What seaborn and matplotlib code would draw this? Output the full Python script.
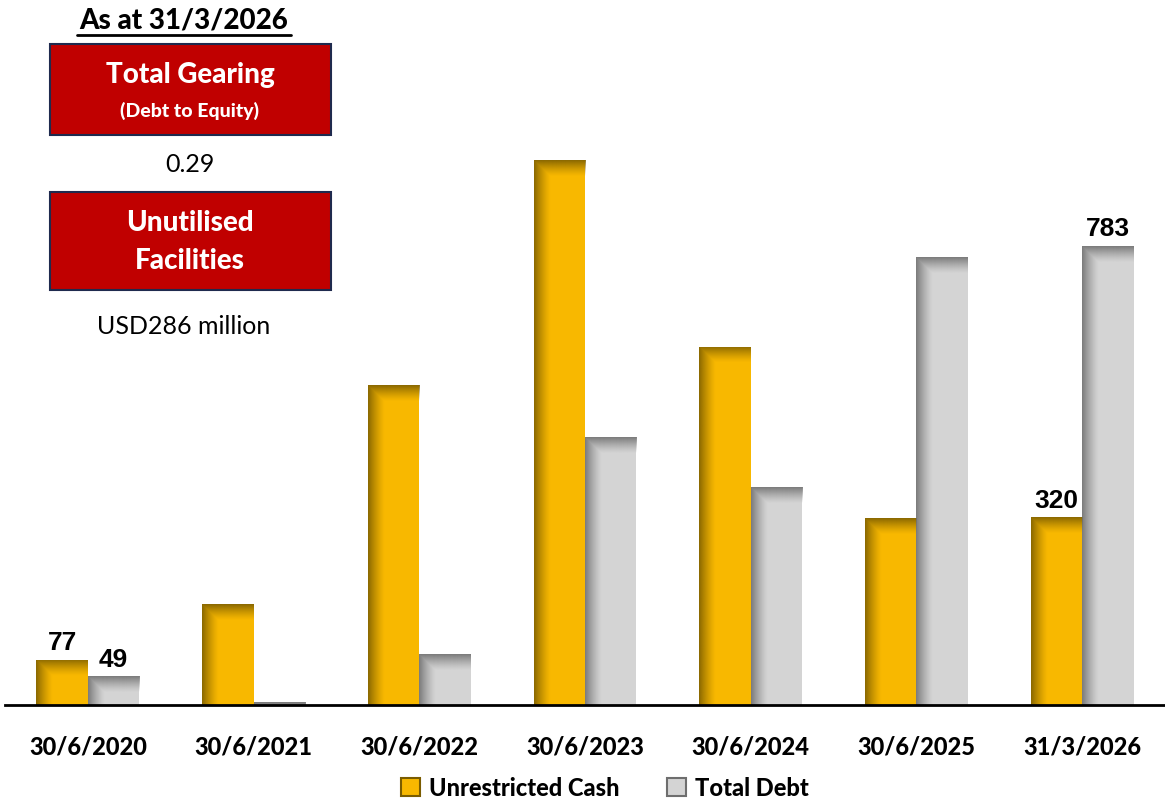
import numpy as np
import pandas as pd
import matplotlib
matplotlib.use('Agg')
import matplotlib.pyplot as plt
from matplotlib.patches import Patch, Rectangle
import seaborn as sns

# values (USD million)
periods = ['30/6/2020', '30/6/2021', '30/6/2022', '30/6/2023', '30/6/2024', '30/6/2025', '31/3/2026']
cash = [77, 172, 546, 930, 611, 319, 320]
debt = [49, 5, 87, 457, 372, 764, 783]
series = ['Unrestricted Cash', 'Total Debt']
labelled = {('30/6/2020', 'Unrestricted Cash'): '77', ('30/6/2020', 'Total Debt'): '49',
            ('31/3/2026', 'Unrestricted Cash'): '320', ('31/3/2026', 'Total Debt'): '783'}

gearing = '0.29'
facilities = 'USD286 million'
as_at = 'As at 31/3/2026'

colors = {'Unrestricted Cash': '#F8B800', 'Total Debt': '#D4D4D4'}
shades = {'Unrestricted Cash': '#7A5C00', 'Total Debt': '#6E6E6E'}

df = pd.DataFrame({
    'period': periods * 2,
    'series': [series[0]] * len(periods) + [series[1]] * len(periods),
    'value': cash + debt,
})

sns.set_style('white')
plt.rcParams['font.family'] = ['Lato', 'DejaVu Sans']
plt.rcParams['text.color'] = 'black'
plt.rcParams['xtick.color'] = 'black'

fig = plt.figure(figsize=(11.65, 8.02), dpi=100)
ax = fig.add_axes([5 / 1165, 97 / 802, 1160 / 1165, 685 / 802])

sns.barplot(data=df, x='period', y='value', hue='series', order=periods, hue_order=series,
            palette=colors, width=0.62, gap=0, linewidth=0, saturation=1, legend=False, ax=ax)

ymax = 685 / 0.586
ax.set_xlim(-0.5, len(periods) - 0.5)
ax.set_ylim(0, ymax)

# bevel shading on the left edge and the top of every bar
px_x = 1160 / len(periods)   # pixels per category
px_y = 685 / ymax            # pixels per unit
bars = [p for p in ax.patches if isinstance(p, Rectangle) and p.get_height() > 0]
for i, s in enumerate(series):
    for j, per in enumerate(periods):
        p = bars[i * len(periods) + j]
        x0, w, h = p.get_x(), p.get_width(), p.get_height()
        nx = max(int(round(w * px_x)), 2)
        ny = max(int(round(h * px_y)), 2)
        xx = np.arange(nx)[None, :] * np.ones((ny, 1))
        yy = np.arange(ny)[:, None] * np.ones((1, nx))   # row 0 = top of bar
        a_left = np.clip(1 - xx / 16, 0, 1) ** 1.3
        a_top = np.clip(1 - yy / 16, 0, 1) ** 1.3
        alpha = np.maximum(a_left, a_top) * 0.85
        rgb = matplotlib.colors.to_rgb(shades[s])
        img = np.zeros((ny, nx, 4))
        img[..., :3] = rgb
        img[..., 3] = alpha
        im = ax.imshow(img, extent=(x0, x0 + w, 0, h), origin='upper', aspect='auto',
                       interpolation='bilinear', zorder=p.get_zorder() + 0.1)
        im.set_clip_path(p)
        if (per, s) in labelled:
            ax.text(x0 + w / 2, h + 8, labelled[(per, s)], ha='center', va='bottom', color='black',
                    fontsize=19, fontweight='bold', family='Liberation Sans')

ax.set_xlim(-0.5, len(periods) - 0.5)
ax.set_ylim(0, ymax)
ax.set_xlabel('')
ax.set_ylabel('')
ax.set_yticks([])
ax.set_xticks(range(len(periods)))
ax.set_xticklabels(periods, fontsize=17, fontweight='black', color='black')
ax.tick_params(axis='x', length=0, pad=22)
for side in ['top', 'right', 'left']:
    ax.spines[side].set_visible(False)
ax.spines['bottom'].set_linewidth(2)
ax.spines['bottom'].set_color('black')

# legend
handles = [Patch(facecolor=colors[s], edgecolor=shades[s], linewidth=1.5) for s in series]
fig.legend(handles, series, loc='center', bbox_to_anchor=(605 / 1165, 1 - 788 / 802), ncol=2,
           frameon=False, prop={'weight': 'black', 'size': 17}, handlelength=0.8, handleheight=0.8,
           handletextpad=0.4, columnspacing=2.0, labelcolor='black')

# left info panel
W, H = 1165, 802
fig.text(184 / W, 1 - 20 / H, as_at, ha='center', va='center', fontsize=20, fontweight='black')
fig.add_artist(plt.Line2D([77 / W, 291 / W], [1 - 35 / H, 1 - 35 / H], color='black', linewidth=2))

for (top, bot) in [(44, 135), (192, 290)]:
    fig.add_artist(Rectangle((50 / W, 1 - bot / H), 281 / W, (bot - top) / H, transform=fig.transFigure,
                             facecolor='#C00000', edgecolor='#1F2A4E', linewidth=1.5))

fig.text(190 / W, 1 - 75 / H, 'Total Gearing', ha='center', va='center', color='white',
         fontsize=20, fontweight='black')
fig.text(190 / W, 1 - 111 / H, '(Debt to Equity)', ha='center', va='center', color='white',
         fontsize=14, fontweight='black')
fig.text(190 / W, 1 - 165 / H, gearing, ha='center', va='center', fontsize=18)
fig.text(190 / W, 1 - 223 / H, 'Unutilised', ha='center', va='center', color='white',
         fontsize=20, fontweight='black')
fig.text(190 / W, 1 - 261 / H, 'Facilities', ha='center', va='center', color='white',
         fontsize=20, fontweight='black')
fig.text(184 / W, 1 - 326 / H, facilities, ha='center', va='center', fontsize=18)

fig.savefig('out.png', dpi=100)
